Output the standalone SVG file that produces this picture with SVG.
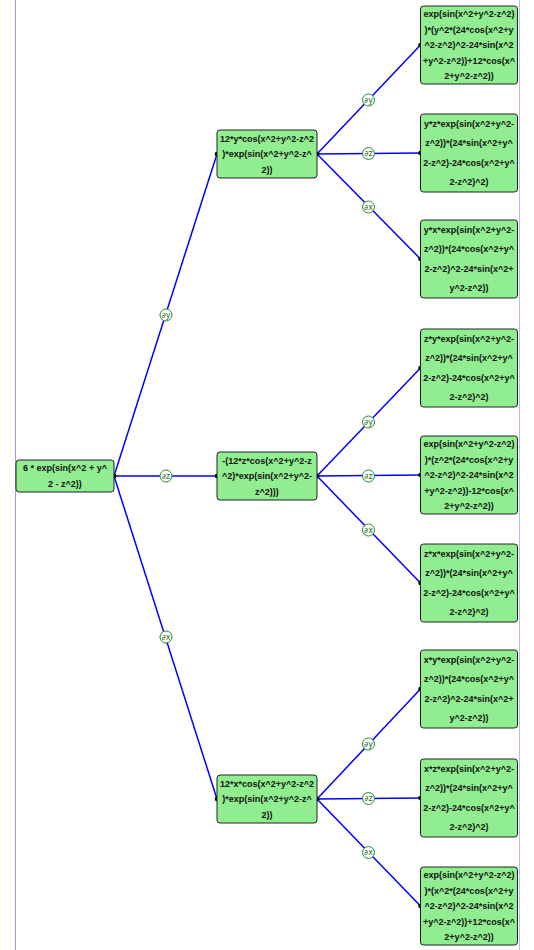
<svg xmlns="http://www.w3.org/2000/svg" width="534" height="950" viewBox="0 0 534 950">
<defs>
<style>
.node rect{fill:#90EE90;stroke:#222;stroke-width:1}
.node text{font-family:"Liberation Sans",Arial,sans-serif;font-weight:bold;font-size:9px;fill:#111;text-anchor:middle;dominant-baseline:central}
.edge{stroke:#0000FF;stroke-width:1.5;fill:none;marker-start:url(#dot);marker-end:url(#dot)}
.lbl circle{fill:#fff;stroke:#2a8a2a;stroke-width:1}
.lbl text{font-family:"DejaVu Sans","Liberation Sans",sans-serif;font-size:8px;fill:#1a6e1a;text-anchor:middle;dominant-baseline:central}
</style>
<marker id="dot" markerWidth="6" markerHeight="6" refX="3" refY="3" markerUnits="userSpaceOnUse">
<circle cx="3" cy="3" r="2.3" fill="#000"/>
</marker>
</defs>
<rect x="0" y="0" width="534" height="950" fill="#fff"/>
<line x1="15.5" y1="0" x2="15.5" y2="950" stroke="#3333ff" stroke-width="1" opacity="0.5"/>
<line x1="519.5" y1="0" x2="519.5" y2="950" stroke="#8888ff" stroke-width="1" opacity="0.6"/>
<g id="connectors">
<line class="edge" x1="114" y1="476" x2="217" y2="154"/>
<line class="edge" x1="114" y1="476" x2="217" y2="476"/>
<line class="edge" x1="114" y1="476" x2="217" y2="799"/>
<line class="edge" x1="317" y1="154" x2="420.5" y2="45"/>
<line class="edge" x1="317" y1="154" x2="420.5" y2="153"/>
<line class="edge" x1="317" y1="154" x2="420.5" y2="259"/>
<line class="edge" x1="317" y1="476" x2="420.5" y2="368"/>
<line class="edge" x1="317" y1="476" x2="420.5" y2="475"/>
<line class="edge" x1="317" y1="476" x2="420.5" y2="583"/>
<line class="edge" x1="317" y1="799" x2="420.5" y2="689"/>
<line class="edge" x1="317" y1="799" x2="420.5" y2="798"/>
<line class="edge" x1="317" y1="799" x2="420.5" y2="906"/>
<g class="lbl"><circle cx="166" cy="315" r="6"/><text x="166" y="315">∂y</text></g>
<g class="lbl"><circle cx="166" cy="476" r="6"/><text x="166" y="476">∂z</text></g>
<g class="lbl"><circle cx="166" cy="637" r="6"/><text x="166" y="637">∂x</text></g>
<g class="lbl"><circle cx="368.5" cy="100" r="6"/><text x="368.5" y="100">∂y</text></g>
<g class="lbl"><circle cx="368.5" cy="153.5" r="6"/><text x="368.5" y="153.5">∂z</text></g>
<g class="lbl"><circle cx="368.5" cy="207" r="6"/><text x="368.5" y="207">∂x</text></g>
<g class="lbl"><circle cx="368.5" cy="422" r="6"/><text x="368.5" y="422">∂y</text></g>
<g class="lbl"><circle cx="368.5" cy="476" r="6"/><text x="368.5" y="476">∂z</text></g>
<g class="lbl"><circle cx="368.5" cy="530" r="6"/><text x="368.5" y="530">∂x</text></g>
<g class="lbl"><circle cx="368.5" cy="744" r="6"/><text x="368.5" y="744">∂y</text></g>
<g class="lbl"><circle cx="368.5" cy="798.5" r="6"/><text x="368.5" y="798.5">∂z</text></g>
<g class="lbl"><circle cx="368.5" cy="852.5" r="6"/><text x="368.5" y="852.5">∂x</text></g>
</g>
<g id="root" class="node"><rect x="16" y="460" width="98" height="32" rx="3"/>
<text x="65" y="468">6 * exp(sin(x^2 + y^</text><text x="65" y="484">2 - z^2))</text></g>
<g id="dy" class="node"><rect x="217" y="130" width="100" height="48" rx="3"/>
<text x="267" y="138.5">12*y*cos(x^2+y^2-z^2</text><text x="267" y="154">)*exp(sin(x^2+y^2-z^</text><text x="267" y="169.5">2))</text></g>
<g id="dz" class="node"><rect x="217" y="452" width="100" height="48" rx="3"/>
<text x="267" y="460.5">-(12*z*cos(x^2+y^2-z</text><text x="267" y="476">^2)*exp(sin(x^2+y^2-</text><text x="267" y="491.5">z^2)))</text></g>
<g id="dx" class="node"><rect x="217" y="775" width="100" height="48" rx="3"/>
<text x="267" y="783.5">12*x*cos(x^2+y^2-z^2</text><text x="267" y="799">)*exp(sin(x^2+y^2-z^</text><text x="267" y="814.5">2))</text></g>
<g id="dydy" class="node"><rect x="420.5" y="6" width="97" height="78" rx="3"/>
<text x="469" y="14">exp(sin(x^2+y^2-z^2)</text><text x="469" y="29.5">)*(y^2*(24*cos(x^2+y</text><text x="469" y="45">^2-z^2)^2-24*sin(x^2</text><text x="469" y="60.5">+y^2-z^2))+12*cos(x^</text><text x="469" y="76">2+y^2-z^2))</text></g>
<g id="dydz" class="node"><rect x="420.5" y="114" width="97" height="78" rx="3"/>
<text x="469" y="123.75">y*z*exp(sin(x^2+y^2-</text><text x="469" y="143.25">z^2))*(24*sin(x^2+y^</text><text x="469" y="162.75">2-z^2)-24*cos(x^2+y^</text><text x="469" y="182.25">2-z^2)^2)</text></g>
<g id="dydx" class="node"><rect x="420.5" y="220" width="97" height="78" rx="3"/>
<text x="469" y="229.75">y*x*exp(sin(x^2+y^2-</text><text x="469" y="249.25">z^2))*(24*cos(x^2+y^</text><text x="469" y="268.75">2-z^2)^2-24*sin(x^2+</text><text x="469" y="288.25">y^2-z^2))</text></g>
<g id="dzdy" class="node"><rect x="420.5" y="329" width="97" height="78" rx="3"/>
<text x="469" y="338.75">z*y*exp(sin(x^2+y^2-</text><text x="469" y="358.25">z^2))*(24*sin(x^2+y^</text><text x="469" y="377.75">2-z^2)-24*cos(x^2+y^</text><text x="469" y="397.25">2-z^2)^2)</text></g>
<g id="dzdz" class="node"><rect x="420.5" y="436" width="97" height="78" rx="3"/>
<text x="469" y="444">exp(sin(x^2+y^2-z^2)</text><text x="469" y="459.5">)*(z^2*(24*cos(x^2+y</text><text x="469" y="475">^2-z^2)^2-24*sin(x^2</text><text x="469" y="490.5">+y^2-z^2))-12*cos(x^</text><text x="469" y="506">2+y^2-z^2))</text></g>
<g id="dzdx" class="node"><rect x="420.5" y="544" width="97" height="78" rx="3"/>
<text x="469" y="553.75">z*x*exp(sin(x^2+y^2-</text><text x="469" y="573.25">z^2))*(24*sin(x^2+y^</text><text x="469" y="592.75">2-z^2)-24*cos(x^2+y^</text><text x="469" y="612.25">2-z^2)^2)</text></g>
<g id="dxdy" class="node"><rect x="420.5" y="650" width="97" height="78" rx="3"/>
<text x="469" y="659.75">x*y*exp(sin(x^2+y^2-</text><text x="469" y="679.25">z^2))*(24*cos(x^2+y^</text><text x="469" y="698.75">2-z^2)^2-24*sin(x^2+</text><text x="469" y="718.25">y^2-z^2))</text></g>
<g id="dxdz" class="node"><rect x="420.5" y="759" width="97" height="78" rx="3"/>
<text x="469" y="768.75">x*z*exp(sin(x^2+y^2-</text><text x="469" y="788.25">z^2))*(24*sin(x^2+y^</text><text x="469" y="807.75">2-z^2)-24*cos(x^2+y^</text><text x="469" y="827.25">2-z^2)^2)</text></g>
<g id="dxdx" class="node"><rect x="420.5" y="867" width="97" height="78" rx="3"/>
<text x="469" y="875">exp(sin(x^2+y^2-z^2)</text><text x="469" y="890.5">)*(x^2*(24*cos(x^2+y</text><text x="469" y="906">^2-z^2)^2-24*sin(x^2</text><text x="469" y="921.5">+y^2-z^2))+12*cos(x^</text><text x="469" y="937">2+y^2-z^2))</text></g>
</svg>
